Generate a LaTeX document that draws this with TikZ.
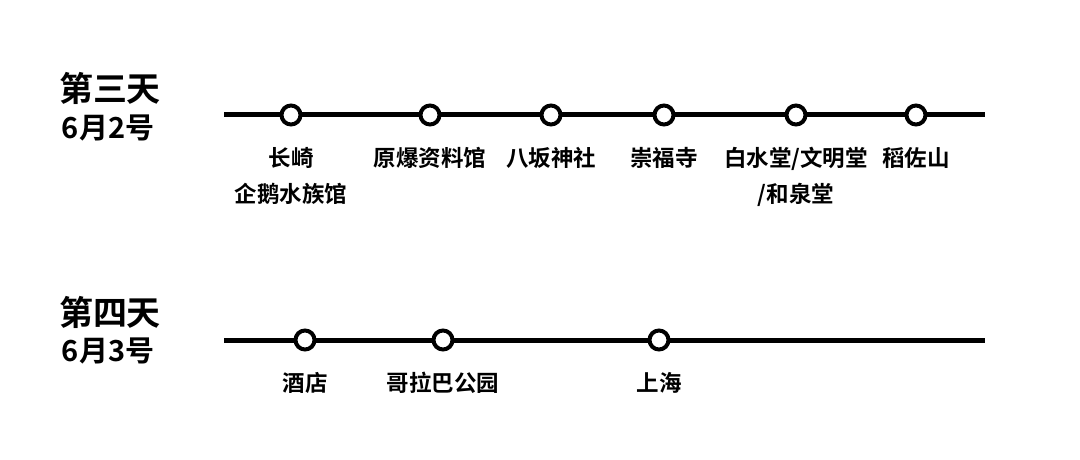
\documentclass[tikz,border=0pt]{standalone}
\usepackage{fontspec}
\setmainfont{Noto Sans CJK SC Bold}
\tikzset{
  stop/.style={circle, draw, line width=4pt, fill=white, minimum size=19pt, inner sep=0pt},
  route/.style={line width=5pt},
  place/.style={anchor=north, inner sep=0pt, align=center, font=\fontsize{22.5}{36}\selectfont},
  daytitle/.style={inner sep=0pt, font=\fontsize{34}{36}\selectfont},
  daydate/.style={inner sep=0pt, font=\fontsize{29}{30}\selectfont}
}
\begin{document}
\begin{tikzpicture}[x=1pt, y=-1pt]
  \useasboundingbox (0, 0) rectangle (1080, 460);
  % 第三天
  \node[daytitle] (t3) at (110, 88) {第三天};
  \node[daydate] (d3) at (108, 128) {6月2号};
  \coordinate (a3) at (224, 115);
  \coordinate (b3) at (985, 115);
  \draw[route] (a3) -- (b3);
  \foreach \x/\n/\txt in {291/1/{长崎\\企鹅水族馆}, 430/2/原爆资料馆, 551/3/八坂神社,
                         664/4/崇福寺, 796/5/{白水堂/文明堂\\/和泉堂}, 916/6/稻佐山} {
    \node[stop] (s3\n) at (\x, 115) {};
    \node[place] (p3\n) at (\x, 147) {\txt};
  }
  % 第四天
  \node[daytitle] (t4) at (110, 312) {第四天};
  \node[daydate] (d4) at (108, 351) {6月3号};
  \coordinate (a4) at (224, 340);
  \coordinate (b4) at (985, 340);
  \draw[route] (a4) -- (b4);
  \foreach \x/\n/\txt in {305/1/酒店, 443/2/哥拉巴公园, 659/3/上海} {
    \node[stop] (s4\n) at (\x, 340) {};
    \node[place] (p4\n) at (\x, 372) {\txt};
  }
\end{tikzpicture}
\end{document}
